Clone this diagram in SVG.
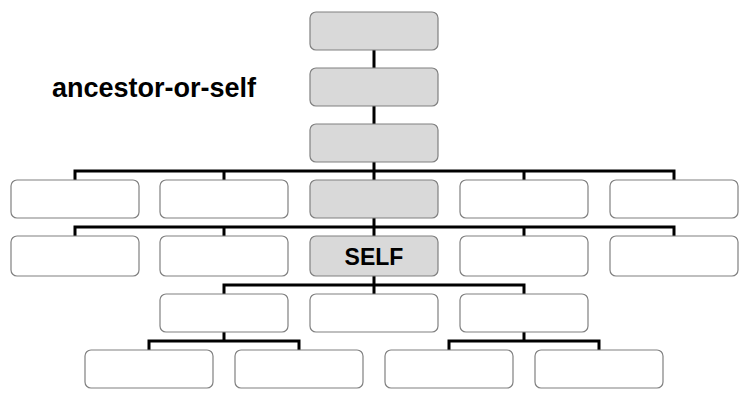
<svg xmlns="http://www.w3.org/2000/svg" width="750" height="403" viewBox="0 0 750 403">
<style>
.box{fill:#ffffff;stroke:#808080;stroke-width:1.2}
.anc{fill:#d9d9d9;stroke:#808080;stroke-width:1.2}
.conn{fill:none;stroke:#000000;stroke-width:3;stroke-linecap:butt;stroke-linejoin:miter}
.t{font-family:"Liberation Sans",Arial,sans-serif;font-weight:bold;fill:#000000}
</style>
<rect width="750" height="403" fill="#ffffff"/>
<g id="connectors">
<path class="conn" d="M374 50V68M374 106V124M374 162V180M75 180V171H674V180M224 171V180M524 171V180"/>
<path class="conn" d="M374 218V236M75 236V227H674V236M224 227V236M524 227V236"/>
<path class="conn" d="M374 276V294M224 294V285H524V294"/>
<path class="conn" d="M224 332V341M149 350V341H299V350"/>
<path class="conn" d="M524 332V341M449 350V341H599V350"/>
</g>
<g id="title"><text class="t" x="52" y="97" font-size="27">ancestor-or-self</text></g>
<g id="a1"><rect class="anc" x="310" y="12" width="128" height="38" rx="6"/></g>
<g id="a2"><rect class="anc" x="310" y="68" width="128" height="38" rx="6"/></g>
<g id="a3"><rect class="anc" x="310" y="124" width="128" height="38" rx="6"/></g>
<g id="r4n1"><rect class="box" x="11" y="180" width="128" height="38" rx="6"/></g>
<g id="r4n2"><rect class="box" x="160" y="180" width="128" height="38" rx="6"/></g>
<g id="a4"><rect class="anc" x="310" y="180" width="128" height="38" rx="6"/></g>
<g id="r4n4"><rect class="box" x="460" y="180" width="128" height="38" rx="6"/></g>
<g id="r4n5"><rect class="box" x="610" y="180" width="128" height="38" rx="6"/></g>
<g id="r5n1"><rect class="box" x="11" y="236" width="128" height="40" rx="6"/></g>
<g id="r5n2"><rect class="box" x="160" y="236" width="128" height="40" rx="6"/></g>
<g id="self"><rect class="anc" x="310" y="236" width="128" height="40" rx="6"/><text class="t" x="374" y="264.5" font-size="23" text-anchor="middle">SELF</text></g>
<g id="r5n4"><rect class="box" x="460" y="236" width="128" height="40" rx="6"/></g>
<g id="r5n5"><rect class="box" x="610" y="236" width="128" height="40" rx="6"/></g>
<g id="r6n1"><rect class="box" x="160" y="294" width="128" height="38" rx="6"/></g>
<g id="r6n2"><rect class="box" x="310" y="294" width="128" height="38" rx="6"/></g>
<g id="r6n3"><rect class="box" x="460" y="294" width="128" height="38" rx="6"/></g>
<g id="r7n1"><rect class="box" x="85" y="350" width="128" height="38" rx="6"/></g>
<g id="r7n2"><rect class="box" x="235" y="350" width="128" height="38" rx="6"/></g>
<g id="r7n3"><rect class="box" x="385" y="350" width="128" height="38" rx="6"/></g>
<g id="r7n4"><rect class="box" x="535" y="350" width="128" height="38" rx="6"/></g>
</svg>
